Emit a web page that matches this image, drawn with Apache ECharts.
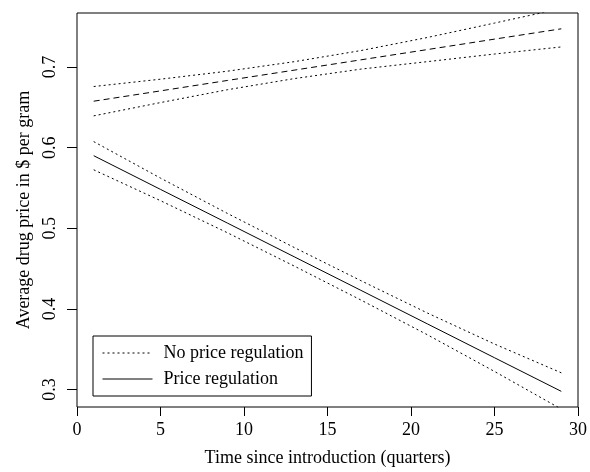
<!DOCTYPE html>
<html><head><meta charset="utf-8">
<script src="https://cdn.jsdelivr.net/npm/echarts@6/dist/echarts.min.js"></script>
<style>html,body{margin:0;padding:0;background:#fff}#c{width:590px;height:472px}</style>
</head><body><div id="c"></div>
<script>
const quarters = [1, 5, 9, 13, 17, 21, 25, 29];
const noRegFit   = [0.6576, 0.6704, 0.6833, 0.6961, 0.7089, 0.7217, 0.7346, 0.7474];
const noRegUpper = [0.6758, 0.6849, 0.6948, 0.7066, 0.7204, 0.7367, 0.7545, 0.7725];
const noRegLower = [0.6394, 0.6559, 0.6718, 0.6856, 0.6974, 0.7067, 0.7161, 0.7249];
const regFit     = [0.5900, 0.5482, 0.5065, 0.4647, 0.4230, 0.3812, 0.3394, 0.2977];
const regUpper   = [0.6075, 0.5622, 0.5185, 0.4762, 0.4350, 0.3947, 0.3564, 0.3207];
const regLower   = [0.5725, 0.5342, 0.4945, 0.4532, 0.4110, 0.3677, 0.3224, 0.2757];
const xTicks = [0, 5, 10, 15, 20, 25, 30];
const yTicks = [0.3, 0.4, 0.5, 0.6, 0.7];
const legendLabels = ['No price regulation', 'Price regulation'];
const xTitle = 'Time since introduction (quarters)';
const yTitle = 'Average drug price in $ per gram';

const FONT = '"Liberation Serif", "DejaVu Serif", serif';
const pts = arr => quarters.map((q, i) => [q, arr[i]]);
const dotted = { color: '#000', width: 1, type: [2, 3] };
const dashed = { color: '#000', width: 1, type: [6, 4] };
const solid  = { color: '#000', width: 1, type: 'solid' };
const mk = (name, arr, ls) => ({
  name, type: 'line', data: pts(arr), symbol: 'none', showSymbol: false,
  lineStyle: ls, itemStyle: { color: '#000' }, silent: true, clip: true
});

const chart = echarts.init(document.getElementById('c'), null, { renderer: 'canvas' });
chart.setOption({
  animation: false,
  backgroundColor: '#fff',
  textStyle: { fontFamily: FONT, color: '#000' },
  grid: { left: 77, right: 9, top: 13, bottom: 60, show: true, borderColor: '#000', borderWidth: 1, backgroundColor: 'transparent' },
  legend: {
    data: legendLabels, orient: 'vertical', left: 93, top: 336,
    itemWidth: 50, itemHeight: 14, itemGap: 8, selectedMode: false,
    padding: [8, 8, 8, 9], borderColor: '#000', borderWidth: 1, backgroundColor: '#fff',
    itemStyle: { opacity: 0 },
    lineStyle: { width: 1, color: '#000' },
    textStyle: { fontFamily: FONT, fontSize: 18, color: '#000', padding: [0, 0, 0, 6] }
  },
  xAxis: {
    type: 'value', min: xTicks[0], max: xTicks[xTicks.length - 1], interval: 5,
    name: xTitle, nameLocation: 'middle', nameGap: 42,
    nameTextStyle: { fontFamily: FONT, fontSize: 18, color: '#000' },
    axisLine: { show: false },
    axisTick: { show: true, length: 9, lineStyle: { color: '#000' } },
    axisLabel: { fontFamily: FONT, fontSize: 18, color: '#000', margin: 14 },
    splitLine: { show: false }
  },
  yAxis: {
    type: 'value', min: 0.2783, max: 0.767,
    name: yTitle, nameLocation: 'middle', nameGap: 43,
    nameTextStyle: { fontFamily: FONT, fontSize: 18, color: '#000' },
    axisLine: { show: false },
    axisTick: { show: true, length: 10, customValues: yTicks, lineStyle: { color: '#000' } },
    axisLabel: { fontFamily: FONT, fontSize: 18, color: '#000', rotate: 90, margin: 18,
      customValues: yTicks, formatter: v => v.toFixed(1) },
    splitLine: { show: false }
  },
  series: [
    mk('No price regulation', noRegUpper, dotted),
    mk('No price regulation', noRegLower, dotted),
    mk('No price regulation fit', noRegFit, dashed),
    mk('Price regulation', regFit, solid),
    mk('Price regulation interval', regUpper, dotted),
    mk('Price regulation interval', regLower, dotted)
  ]
});
</script></body></html>
